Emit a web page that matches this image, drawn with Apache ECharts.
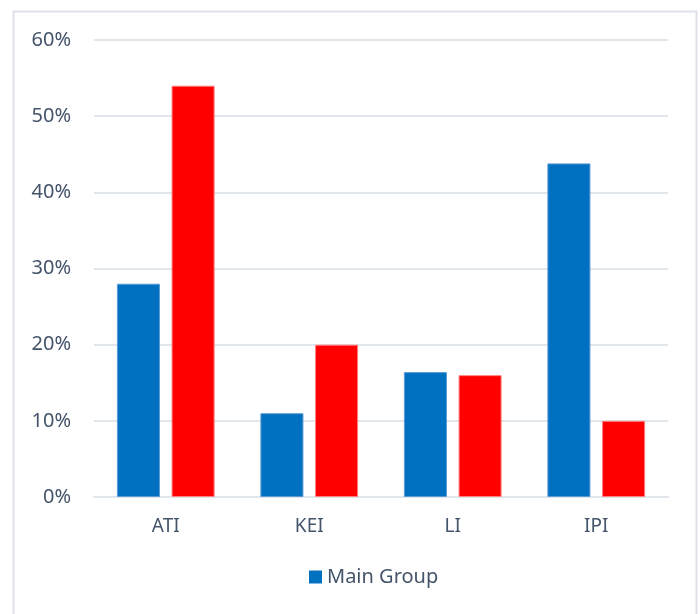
<!DOCTYPE html>
<html>
<head>
<meta charset="utf-8">
<script src="https://cdn.jsdelivr.net/npm/echarts@6/dist/echarts.min.js"></script>
<style>
  html, body { margin: 0; padding: 0; background: #fff; }
  #chart { width: 700px; height: 614px; }
</style>
</head>
<body>
<div id="chart"></div>
<script>
// categories and values (percent)
const categories = ['ATI', 'KEI', 'LI', 'IPI']
const mainGroup = [28, 11, 16.4, 43.8]
const otherGroup = [54, 20, 16, 10]

const $chart = document.getElementById('chart')
let chart = echarts.init($chart)

const textColor = '#44546a'
const lineColor = '#e1e5ec'

const option = {
  backgroundColor: '#fff',
  textStyle: { fontFamily: 'Noto Sans' },
  graphic: [
    {
      type: 'rect',
      shape: { x: 13.5, y: 11.5, width: 683, height: 620 },
      style: { fill: 'none', stroke: '#dde1ea', lineWidth: 2 },
      silent: true
    }
  ],
  legend: {
    data: ['Main Group'],
    bottom: 22,
    left: 304,
    itemWidth: 13,
    itemHeight: 13,
    icon: 'rect',
    itemGap: 8,
    itemStyle: { borderWidth: 0 },
    textStyle: { color: textColor, fontSize: 20, fontFamily: 'Noto Sans' }
  },
  grid: {
    left: 94,
    right: 32,
    top: 40,
    bottom: 117
  },
  xAxis: {
    type: 'category',
    data: categories,
    axisLine: { lineStyle: { color: lineColor, width: 2 } },
    axisTick: { show: false },
    axisLabel: { color: textColor, fontSize: 19, margin: 20 }
  },
  yAxis: {
    type: 'value',
    min: 0,
    max: 60,
    interval: 10,
    axisLine: { show: false },
    axisTick: { show: false },
    splitLine: { lineStyle: { color: lineColor, width: 2 } },
    axisLabel: {
      formatter: '{value}%',
      color: textColor,
      fontSize: 20,
      margin: 23
    }
  },
  series: [
    {
      name: 'Main Group',
      type: 'bar',
      data: mainGroup,
      barWidth: '30%',
      barGap: '27%',
      itemStyle: { color: '#0070c0', borderColor: '#5b9bd5', borderWidth: 1 }
    },
    {
      name: 'Comparison Group',
      type: 'bar',
      data: otherGroup,
      barWidth: '30%',
      itemStyle: { color: '#ff0000', borderColor: '#ff8080', borderWidth: 1 }
    }
  ]
}

chart.setOption(option)
</script>
</body>
</html>
